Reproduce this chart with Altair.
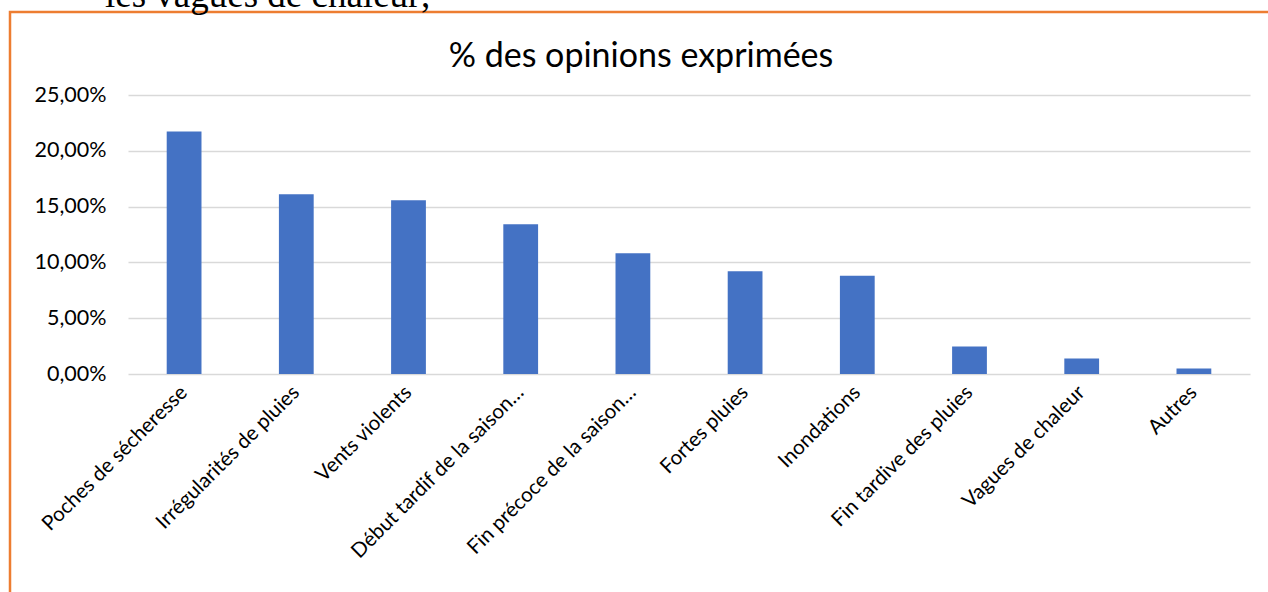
import altair as alt
import pandas as pd

categories = [
    "Poches de sécheresse",
    "Irrégularités de pluies",
    "Vents violents",
    "Début tardif de la saison…",
    "Fin précoce de la saison…",
    "Fortes pluies",
    "Inondations",
    "Fin tardive des pluies",
    "Vagues de chaleur",
    "Autres",
]
values = [0.2172, 0.1610, 0.1557, 0.1341, 0.1081, 0.0920, 0.0881, 0.0247, 0.0140, 0.0050]
y_ticks = [0, 0.05, 0.10, 0.15, 0.20, 0.25]
title_text = "% des opinions exprimées"
above_text = "les vagues de chaleur;"

df = pd.DataFrame({"cat": categories, "val": values})
one = pd.DataFrame({"k": [0]})

FONT = "Lato"

bars = alt.Chart(df).mark_bar(color="#4472C4").encode(
    x=alt.X(
        "cat:N",
        sort=categories,
        title=None,
        scale=alt.Scale(paddingInner=0.69, paddingOuter=0.345),
        axis=alt.Axis(
            labelAngle=315,
            labelAlign="right",
            labelBaseline="middle",
            labelFont=FONT,
            labelFontSize=20.5,
            labelColor="#000000",
            labelPadding=15,
            ticks=False,
            domain=False,
            grid=False,
            labelLimit=400,
        ),
    ),
    y=alt.Y(
        "val:Q",
        title=None,
        scale=alt.Scale(domain=[0, 0.25], nice=False),
        axis=alt.Axis(
            values=y_ticks,
            labelExpr="replace(format(datum.value, '.2%'), '.', ',')",
            labelFont=FONT,
            labelFontSize=21.5,
            labelColor="#000000",
            labelPadding=22,
            ticks=False,
            domain=False,
            gridColor="#D9D9D9",
            gridWidth=1.5,
        ),
    ),
)

title = alt.Chart(one).mark_text(
    font=FONT, fontSize=34, color="#000000", align="center", baseline="alphabetic"
).encode(x=alt.value(513), y=alt.value(-28), text=alt.value(title_text))

above = alt.Chart(one).mark_text(
    font="Liberation Serif", fontSize=37, color="#000000", align="left", baseline="alphabetic"
).encode(x=alt.value(-23), y=alt.value(-88), text=alt.value(above_text))

border = alt.Chart(one).mark_rect(
    fill="transparent", stroke="#ED7D31", strokeWidth=2.5
).encode(
    x=alt.value(-118), x2=alt.value(1160), y=alt.value(-83), y2=alt.value(520)
)

chart = (
    alt.layer(border, above, title, bars)
    .properties(
        width=1122,
        height=279,
        autosize=alt.AutoSizeParams(type="none"),
        padding={"left": 128, "top": 95, "right": 18, "bottom": 218},
        view=alt.ViewBackground(stroke="transparent", strokeWidth=0),
    )
    .configure_view(strokeWidth=0, stroke="transparent", fill="transparent")
    .configure_axis(gridColor="#D9D9D9", domain=False)
    .configure(background="white")
)

chart.save("out.html", embed_options={"renderer": "svg", "actions": False})
